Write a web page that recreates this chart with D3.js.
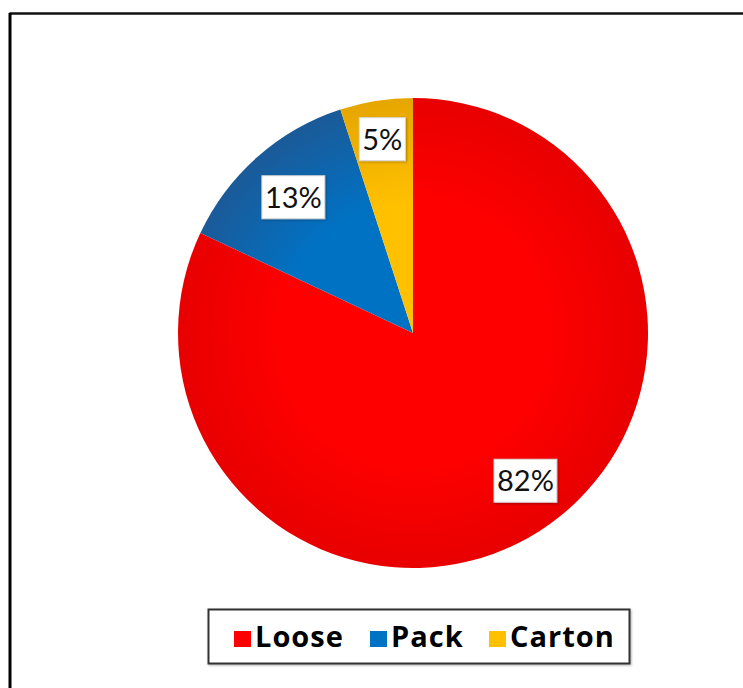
<!DOCTYPE html>
<html>
<head>
<meta charset="utf-8">
<script src="https://cdn.jsdelivr.net/npm/d3@7"></script>
<style>
  html, body { margin: 0; padding: 0; background: #fff; }
  svg { display: block; }
</style>
</head>
<body>
<svg id="chart" width="743" height="688"></svg>
<script>
// Package type shares (%)
const categories = ["Loose", "Pack", "Carton"];
const shares = [82, 13, 5];
const labels = ["82%", "13%", "5%"];
const colors = ["#ff0000", "#0072c4", "#ffc000"];
const edgeColors = ["#e80000", "#1b5a98", "#e6a600"];

const W = 743, H = 688;
const svg = d3.select("#chart");
const cx = 413, cy = 333, R = 235;
const labelFont = "Lato, 'Open Sans', sans-serif";
const legendFont = "'Open Sans', Lato, sans-serif";

// Frame lines along top and left
svg.append("line").attr("x1", 9.5).attr("y1", 13.5).attr("x2", W).attr("y2", 13.5)
  .attr("stroke", "#111").attr("stroke-width", 2.5);
svg.append("line").attr("x1", 10).attr("y1", 13).attr("x2", 10).attr("y2", H)
  .attr("stroke", "#000").attr("stroke-width", 3);

const defs = svg.append("defs");
categories.forEach((c, i) => {
  const g = defs.append("radialGradient")
    .attr("id", "grad" + i)
    .attr("gradientUnits", "userSpaceOnUse")
    .attr("cx", 0).attr("cy", 0).attr("r", R);
  g.append("stop").attr("offset", "0%").attr("stop-color", colors[i]);
  g.append("stop").attr("offset", "55%").attr("stop-color", colors[i]);
  g.append("stop").attr("offset", "100%").attr("stop-color", edgeColors[i]);
});
const shadow = defs.append("filter").attr("id", "lblShadow")
  .attr("x", "-20%").attr("y", "-20%").attr("width", "140%").attr("height", "140%");
shadow.append("feDropShadow").attr("dx", 1).attr("dy", 1).attr("stdDeviation", 1)
  .attr("flood-color", "#000").attr("flood-opacity", 0.3);

const pie = d3.pie().sort(null).value(d => d)
  .startAngle(0).endAngle(2 * Math.PI);
const arcs = pie(shares);
const arc = d3.arc().innerRadius(0).outerRadius(R);

const g = svg.append("g").attr("transform", `translate(${cx},${cy})`);
g.selectAll("path.slice").data(arcs).enter().append("path")
  .attr("class", "slice")
  .attr("d", arc)
  .attr("fill", (d, i) => `url(#grad${i})`);

// Best-fit placement of the data labels: radius fraction and angular shift per slice
const fit = [{ r: 0.79, da: -0.085 }, { r: 0.77, da: 0 }, { r: 0.835, da: 0 }];
function labelPos(d, i) {
  const a = (d.startAngle + d.endAngle) / 2 + fit[i].da;
  const rr = R * fit[i].r;
  return [Math.sin(a) * rr, -Math.cos(a) * rr];
}

// Percentage labels in white boxes
const lg = g.selectAll("g.lbl").data(arcs).enter().append("g")
  .attr("class", "lbl")
  .attr("transform", (d, i) => `translate(${labelPos(d, i)})`);
lg.append("text")
  .attr("text-anchor", "middle")
  .attr("dy", "0.36em")
  .attr("font-family", labelFont)
  .attr("font-size", 29)
  .attr("fill", "#111")
  .text((d, i) => labels[i]);
lg.each(function () {
  const t = d3.select(this).select("text");
  const b = t.node().getBBox();
  d3.select(this).insert("rect", "text")
    .attr("x", b.x - 3).attr("y", -21.5)
    .attr("width", b.width + 6).attr("height", 43)
    .attr("fill", "#fff")
    .attr("stroke", "#d8d8d8").attr("stroke-width", 1)
    .attr("filter", "url(#lblShadow)");
});

// Legend
const legend = svg.append("g");
legend.append("rect")
  .attr("x", 208.5).attr("y", 609.5).attr("width", 421).attr("height", 54)
  .attr("fill", "#fff").attr("stroke", "#333").attr("stroke-width", 2)
  .attr("filter", "url(#lblShadow)");
const itemX = [234, 370, 489];
const items = legend.selectAll("g.item").data(categories).enter().append("g")
  .attr("class", "item")
  .attr("transform", (d, i) => `translate(${itemX[i]},0)`);
items.append("rect")
  .attr("x", 0).attr("y", 631).attr("width", 17).attr("height", 16)
  .attr("fill", (d, i) => colors[i]);
items.append("text")
  .attr("x", 21).attr("y", 647)
  .attr("font-family", legendFont)
  .attr("font-weight", "bold")
  .attr("font-size", 29)
  .attr("letter-spacing", 1)
  .attr("fill", "#000")
  .text(d => d);
</script>
</body>
</html>
